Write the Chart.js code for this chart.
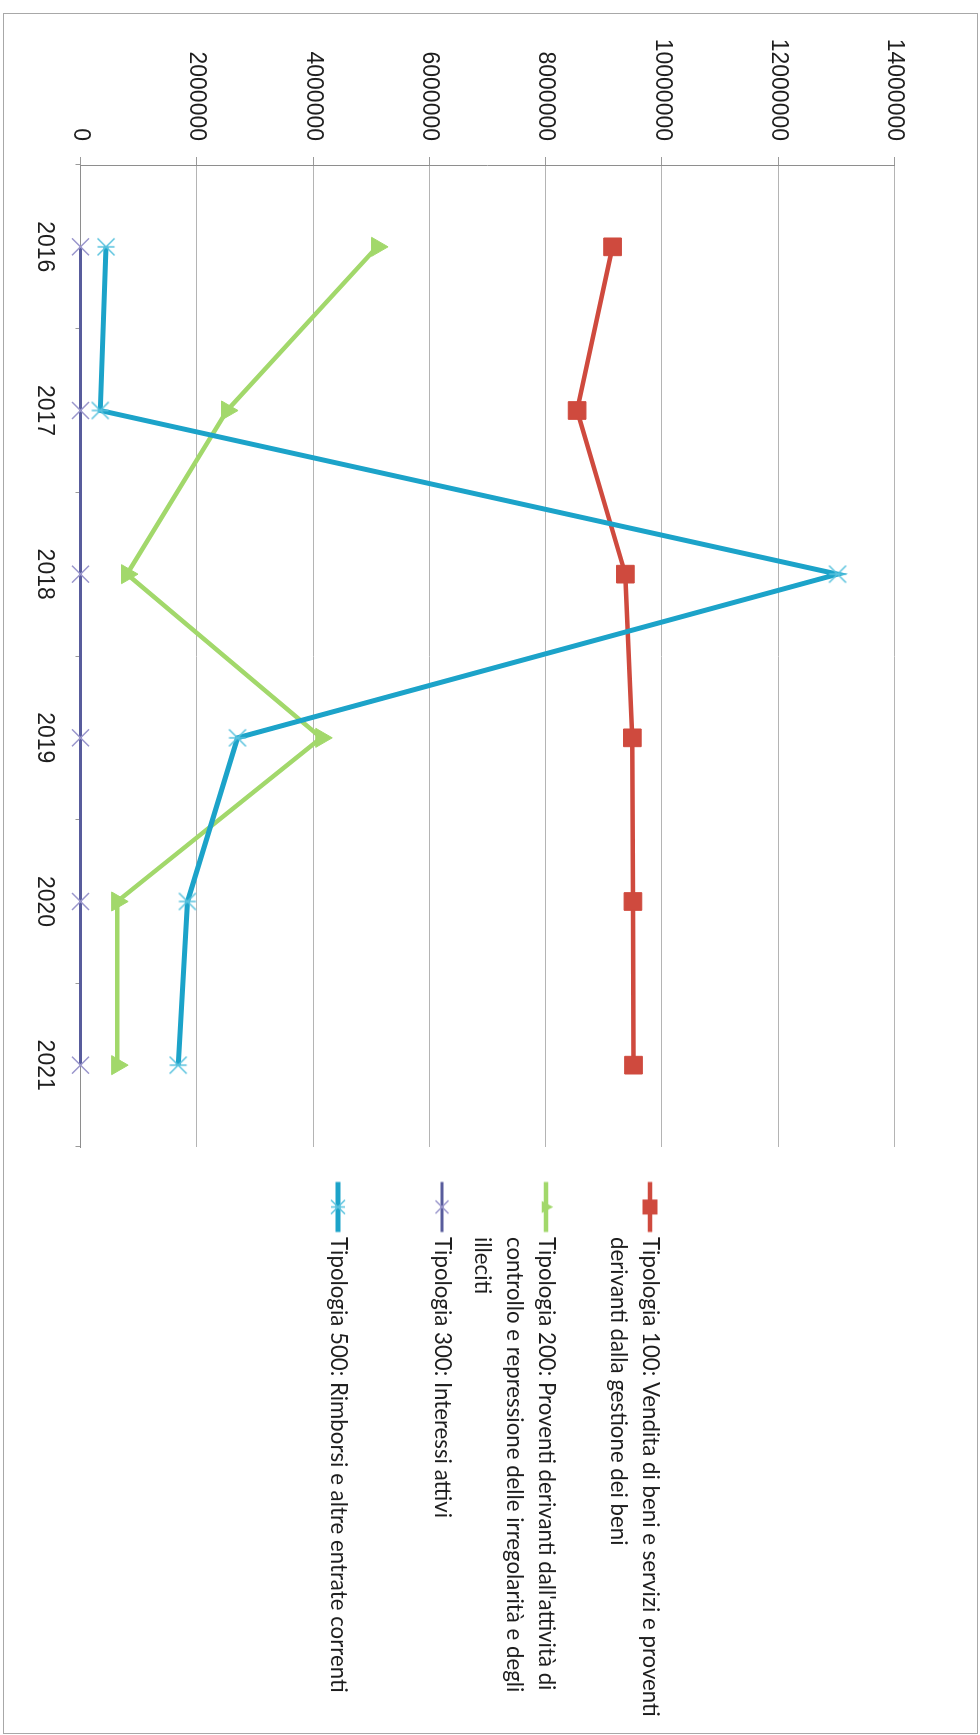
<!DOCTYPE html>
<html>
<head>
<meta charset="utf-8">
<script src="https://cdn.jsdelivr.net/npm/chart.js@4.4.1/dist/chart.umd.min.js"></script>
<style>
  html, body { margin: 0; padding: 0; background: #fff; }
  body { width: 980px; height: 1735px; position: relative; overflow: hidden; }
  #frame { position: absolute; left: 3px; top: 13px; width: 973px; height: 1719px; border: 1px solid #a8a8a8; }
  /* the chart is drawn upright and then turned a quarter turn, like the scanned page */
  #page { position: absolute; left: 0; top: 0; width: 1735px; height: 980px;
          transform-origin: 0 0; transform: translate(980px, 0) rotate(90deg); }
</style>
</head>
<body>
<div id="frame"></div>
<div id="page"><canvas id="entrateChart" width="1735" height="980"></canvas></div>
<script>
// --- data ---
const years = ['2016', '2017', '2018', '2019', '2020', '2021'];
const tipologia100 = [9150000, 8540000, 9370000, 9490000, 9500000, 9510000];
const tipologia200 = [5100000, 2520000, 800000, 4140000, 630000, 630000];
const tipologia300 = [0, 0, 0, 0, 0, 0];
const tipologia500 = [440000, 340000, 13020000, 2700000, 1840000, 1680000];
const valueTicks = [0, 2000000, 4000000, 6000000, 8000000, 10000000, 12000000, 14000000];
const seriesNames = [
    'Tipologia 100: Vendita di beni e servizi e proventi derivanti dalla gestione dei beni',
    "Tipologia 200: Proventi derivanti dall'attività di controllo e repressione delle irregolarità e degli illeciti",
    'Tipologia 300: Interessi attivi',
    'Tipologia 500: Rimborsi e altre entrate correnti'
];
const legendLines = [
    ['Tipologia 100: Vendita di beni e servizi e proventi', 'derivanti dalla gestione dei beni', ''],
    ["Tipologia 200: Proventi derivanti dall'attività di", 'controllo e repressione delle irregolarità e degli', 'illeciti'],
    ['Tipologia 300: Interessi attivi', '', ''],
    ['Tipologia 500: Rimborsi e altre entrate correnti', '', '']
];

// --- layout (upright chart coordinates) ---
const W = 1735, H = 980;
const PLOT_LEFT = 165, PLOT_RIGHT = 1147, PLOT_TOP = 85.4, PLOT_BOTTOM = 899.5;
const LEGEND_LINE_START = 1182, LEGEND_LINE_END = 1232, LEGEND_TEXT_X = 1237;
const LEGEND_FIRST_Y = 330, LEGEND_ROW = 104, LEGEND_LINE_H = 32;
const LEGEND_PAD = LEGEND_ROW - 3 * LEGEND_LINE_H;

const lineColors = ['#CF4A3E', '#A2D86B', '#585C9C', '#1CA3C9'];
const lineWidths = [4.5, 4.5, 3, 5];
const markerColors = ['#CF4A3E', '#A2D86B', '#9A96CC', '#58C2DE'];

// legend font sized so the first line is as long as in the scan
const meas = document.createElement('canvas').getContext('2d');
meas.font = '100px Lato';
const legendFont = 100 * 480 / meas.measureText(legendLines[0][0]).width;
const boxW = LEGEND_TEXT_X - (PLOT_RIGHT + LEGEND_PAD) - legendFont / 2;
const titlePad = LEGEND_FIRST_Y - legendFont / 2 - PLOT_TOP - LEGEND_PAD - 10;

function drawMarker(g, i, x, y, s) {
    g.fillStyle = markerColors[i];
    g.strokeStyle = markerColors[i];
    g.lineWidth = 1.5;
    g.beginPath();
    if (i === 0) {
        g.fillRect(x - s / 2, y - s / 2, s, s);
        return;
    }
    if (i === 1) {
        g.moveTo(x, y - s * 0.6);
        g.lineTo(x + s * 0.5, y + s * 0.35);
        g.lineTo(x - s * 0.5, y + s * 0.35);
        g.closePath();
        g.fill();
        return;
    }
    const r = s / 2;
    g.moveTo(x - r, y - r); g.lineTo(x + r, y + r);
    g.moveTo(x + r, y - r); g.lineTo(x - r, y + r);
    if (i === 3) { g.moveTo(x, y - r); g.lineTo(x, y + r); }
    g.stroke();
}

function starMarker() {
    const c = document.createElement('canvas');
    c.width = c.height = 24;
    drawMarker(c.getContext('2d'), 3, 12, 12, 17);
    return c;
}

function legendIcon(i) {
    const cx = PLOT_RIGHT + LEGEND_PAD + boxW / 2;
    const half = Math.ceil(Math.max(LEGEND_LINE_END - cx, cx - LEGEND_LINE_START)) + 10;
    const c = document.createElement('canvas');
    c.width = half * 2;
    c.height = 30;
    const g = c.getContext('2d');
    const ox = cx - half;
    const a = LEGEND_LINE_START - ox, b = LEGEND_LINE_END - ox;
    g.strokeStyle = lineColors[i];
    g.lineWidth = lineWidths[i];
    g.beginPath(); g.moveTo(a, 15); g.lineTo(b, 15); g.stroke();
    drawMarker(g, i, (a + b) / 2, 15, [15, 12, 13, 14][i]);
    return c;
}

const legendIcons = [0, 1, 2, 3].map(legendIcon);

const fixLegendWidth = {
    id: 'fixLegendWidth',
    afterInit(chart) {
        const legend = chart.legend;
        const fit = legend.fit.bind(legend);
        legend.fit = function () { fit(); this.width = W - PLOT_RIGHT; };
    }
};

const tickFont = { family: 'Liberation Sans', size: 23 };

new Chart(document.getElementById('entrateChart'), {
    type: 'line',
    data: {
        labels: years,
        datasets: [
            { label: seriesNames[0], data: tipologia100, borderColor: lineColors[0], borderWidth: lineWidths[0],
              pointStyle: 'rect', pointRadius: 12.5, pointBackgroundColor: markerColors[0],
              pointBorderColor: markerColors[0], pointBorderWidth: 1, order: 4 },
            { label: seriesNames[1], data: tipologia200, borderColor: lineColors[1], borderWidth: lineWidths[1],
              pointStyle: 'triangle', pointRadius: 11, pointBackgroundColor: markerColors[1],
              pointBorderColor: markerColors[1], pointBorderWidth: 1, order: 3 },
            { label: seriesNames[2], data: tipologia300, borderColor: lineColors[2], borderWidth: lineWidths[2],
              pointStyle: 'crossRot', pointRadius: 12, pointBorderColor: markerColors[2],
              pointBorderWidth: 1.5, order: 2 },
            { label: seriesNames[3], data: tipologia500, borderColor: lineColors[3], borderWidth: lineWidths[3],
              pointStyle: starMarker(), order: 1 }
        ]
    },
    options: {
        responsive: false,
        devicePixelRatio: 1,
        animation: false,
        events: [],
        clip: false,
        elements: { line: { tension: 0, fill: false } },
        layout: { padding: { top: PLOT_TOP, left: 0, right: 0, bottom: 0 } },
        scales: {
            x: {
                offset: true,
                grid: { offset: true, drawOnChartArea: false, drawTicks: true, tickLength: 5, color: '#9a9a9a' },
                border: { display: true, color: '#8e8e8e' },
                ticks: { padding: 17.7, color: '#1e1e1e', font: tickFont, maxRotation: 0, autoSkip: false },
                afterFit(scale) { scale.height = H - PLOT_BOTTOM; }
            },
            y: {
                min: valueTicks[0],
                max: valueTicks[valueTicks.length - 1],
                grid: { color: '#b4b4b4', lineWidth: 1, tickLength: 8, tickColor: '#9a9a9a' },
                border: { display: true, color: '#8e8e8e' },
                ticks: {
                    stepSize: valueTicks[1] - valueTicks[0],
                    padding: 16,
                    color: '#1e1e1e',
                    font: tickFont,
                    callback: (v) => String(v)
                },
                afterFit(scale) { scale.width = PLOT_LEFT; }
            }
        },
        plugins: {
            tooltip: { enabled: false },
            legend: {
                position: 'right',
                align: 'start',
                title: { display: true, text: '', font: { size: 10, lineHeight: 1 }, padding: { top: titlePad, bottom: 0 } },
                labels: {
                    usePointStyle: true,
                    pointStyleWidth: boxW,
                    padding: LEGEND_PAD,
                    color: '#1e1e1e',
                    font: { family: 'Lato', size: legendFont, lineHeight: LEGEND_LINE_H + 'px' },
                    generateLabels(chart) {
                        return chart.data.datasets.map((ds, i) => ({
                            text: legendLines[i],
                            fillStyle: lineColors[i],
                            strokeStyle: lineColors[i],
                            lineWidth: 0,
                            pointStyle: legendIcons[i],
                            fontColor: '#1e1e1e',
                            hidden: false,
                            datasetIndex: i
                        }));
                    }
                }
            }
        }
    },
    plugins: [fixLegendWidth]
});
</script>
</body>
</html>
